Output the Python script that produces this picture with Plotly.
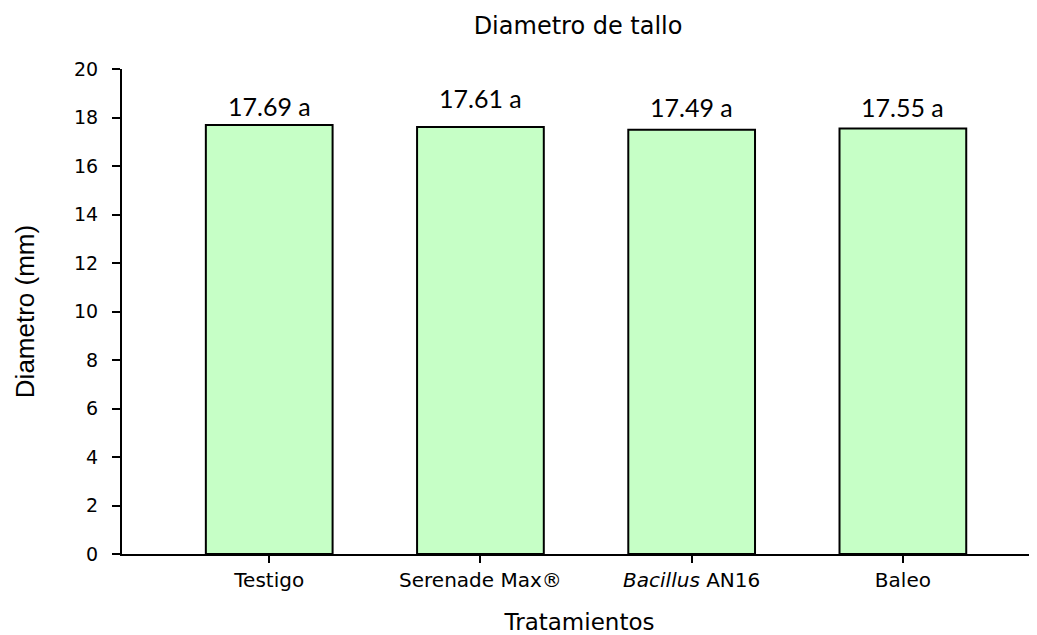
import plotly.graph_objects as go

# data
tratamientos = ["Testigo", "Serenade Max®", "<i>Bacillus</i> AN16", "Baleo"]
diametro = [17.69, 17.61, 17.49, 17.55]
letras = ["a", "a", "a", "a"]

# pixel offsets of the value labels above each bar
label_shift = [19, 29, 23, 21]

fig = go.Figure()

fig.add_trace(
    go.Bar(
        x=tratamientos,
        y=diametro,
        width=0.6,
        marker=dict(color="#C6FFC6", line=dict(color="black", width=2)),
        showlegend=False,
    )
)

for t, v, l, s in zip(tratamientos, diametro, letras, label_shift):
    fig.add_annotation(
        x=t, y=v, text=f"{v:.2f} {l}", showarrow=False,
        yanchor="middle", yshift=s,
        font=dict(family="Lato, Carlito, sans-serif", size=25, color="black"),
    )

fig.update_layout(
    width=1029,
    height=627,
    margin=dict(l=114, r=0, t=61, b=81),
    plot_bgcolor="white",
    paper_bgcolor="white",
    title=dict(
        text="Diametro de tallo",
        x=0.554, xanchor="center", y=0.972, yanchor="middle",
        font=dict(family="DejaVu Sans", size=24, color="black"),
    ),
    font=dict(family="DejaVu Sans", color="black"),
)

fig.update_xaxes(
    range=[-0.697, 3.635],
    showline=True, linecolor="black", linewidth=2,
    ticks="outside", ticklen=7, tickwidth=2, tickcolor="black",
    tickfont=dict(size=20, family="DejaVu Sans"),
    title=dict(text="Tratamientos", font=dict(size=23, family="DejaVu Sans"), standoff=26),
    showgrid=False,
)

fig.update_yaxes(
    range=[0, 20], dtick=2,
    showline=True, linecolor="black", linewidth=2,
    ticks="outside", ticklen=8, tickwidth=2, tickcolor="black",
    ticklabelstandoff=10,
    tickfont=dict(size=19, family="DejaVu Sans"),
    title=dict(text="Diametro (mm)", font=dict(size=26, family="Liberation Sans, Arial"), standoff=32),
    showgrid=False, zeroline=False,
)

fig.write_html("out.html")
